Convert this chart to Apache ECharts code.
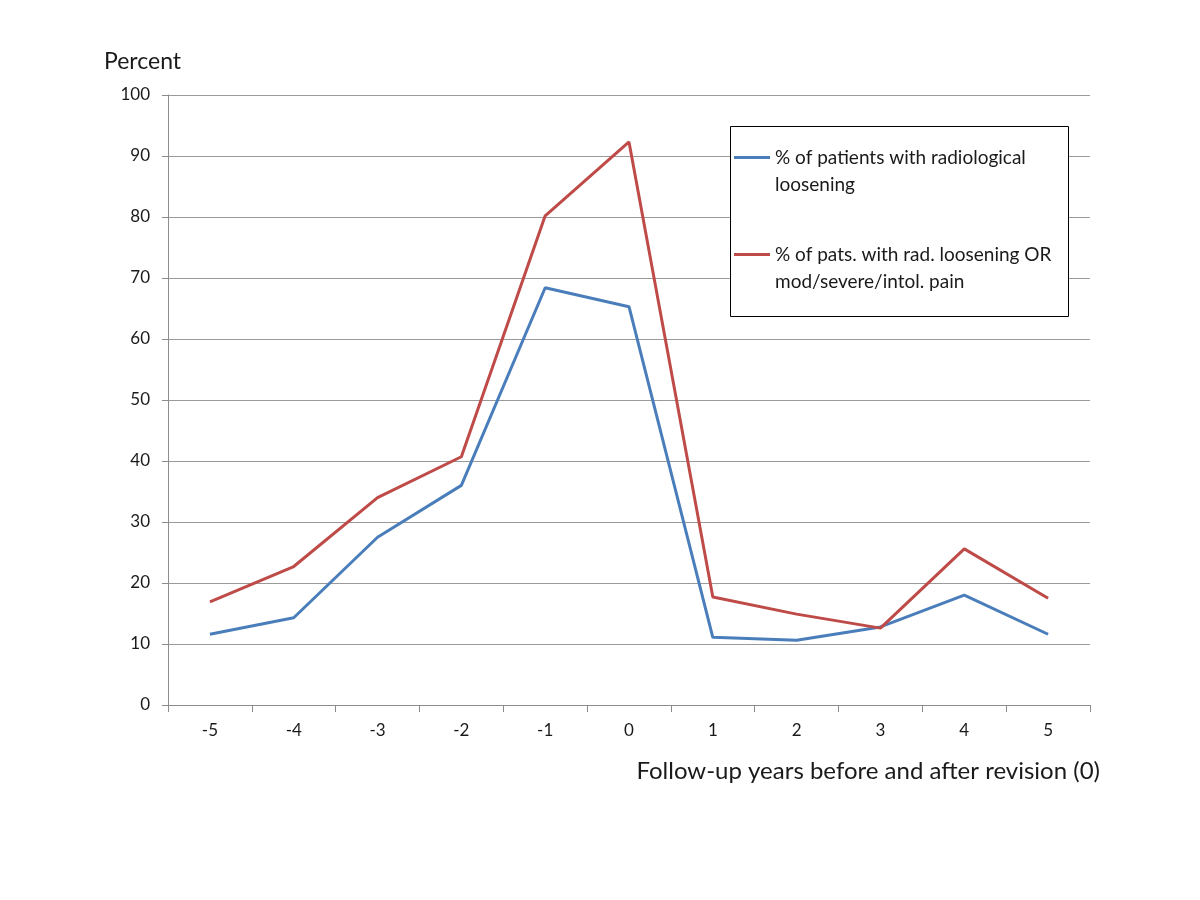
<!DOCTYPE html>
<html>
<head>
<meta charset="utf-8">
<script src="https://cdn.jsdelivr.net/npm/echarts@6/dist/echarts.min.js"></script>
<style>
  html, body { margin: 0; padding: 0; background: #fff; }
  #chart { width: 1200px; height: 900px; }
</style>
</head>
<body>
<div id="chart"></div>
<script>
// follow-up years relative to revision (0)
const years = ['-5', '-4', '-3', '-2', '-1', '0', '1', '2', '3', '4', '5'];
const radLoosening = [11.6, 14.3, 27.5, 36.0, 68.4, 65.3, 11.1, 10.6, 12.8, 18.0, 11.6];
const radOrPain = [16.9, 22.7, 34.0, 40.7, 80.2, 92.3, 17.7, 14.9, 12.6, 25.6, 17.5];
const seriesNames = [
  '% of patients with radiological\nloosening',
  '% of pats. with rad. loosening OR\nmod/severe/intol. pain'
];

const font = 'Lato, "Open Sans", sans-serif';
const myChart = echarts.init(document.getElementById('chart'));

// legend icon: bar at top of a taller box so it lines up with the first text line
const topLineIcon = 'path://M0,0L36,0L36,3L0,3ZM0,30L36,30Z';

const option = {
  backgroundColor: '#fff',
  animation: false,
  textStyle: { fontFamily: font },
  grid: { left: 168, right: 110, top: 95, bottom: 195 },
  graphic: [
    {
      type: 'rect',
      left: 730, top: 126,
      shape: { width: 338, height: 190 },
      style: { fill: '#fff', stroke: '#000', lineWidth: 1 },
      z: 5
    }
  ],
  legend: {
    left: 734, top: 144,
    padding: 0,
    orient: 'vertical',
    itemGap: 43,
    itemWidth: 36,
    itemHeight: 30,
    icon: topLineIcon,
    z: 10,
    textStyle: {
      fontFamily: font, fontSize: 19, color: '#1a1a1a', lineHeight: 27
    },
    data: seriesNames
  },
  xAxis: {
    type: 'category',
    data: years,
    boundaryGap: true,
    name: 'Follow-up years before and after revision (0)',
    nameLocation: 'end',
    nameGap: 10,
    nameTextStyle: {
      fontFamily: font, fontSize: 24, color: '#1a1a1a',
      align: 'right', verticalAlign: 'top', padding: [54, 0, 0, 0]
    },
    axisLine: { lineStyle: { color: '#8c8c8c', width: 1 } },
    axisTick: { show: true, length: 7, inside: false, lineStyle: { color: '#8c8c8c' } },
    axisLabel: { fontFamily: font, fontSize: 17, color: '#1a1a1a', margin: 17 },
    splitLine: { show: false }
  },
  yAxis: {
    type: 'value',
    min: 0, max: 100, interval: 10,
    name: 'Percent',
    nameLocation: 'end',
    nameGap: 22,
    nameTextStyle: {
      fontFamily: font, fontSize: 23, color: '#1a1a1a',
      align: 'left', padding: [0, 0, 0, -64]
    },
    axisLine: { show: true, lineStyle: { color: '#8c8c8c', width: 1 } },
    axisTick: { show: true, length: 6, lineStyle: { color: '#8c8c8c' } },
    axisLabel: { fontFamily: font, fontSize: 17, color: '#1a1a1a', margin: 18 },
    splitLine: { lineStyle: { color: '#9a9a9a', width: 1 } }
  },
  series: [
    {
      name: seriesNames[0],
      type: 'line',
      data: radLoosening,
      symbol: 'none',
      lineStyle: { color: '#4a7ebb', width: 3 },
      itemStyle: { color: '#4a7ebb' }
    },
    {
      name: seriesNames[1],
      type: 'line',
      data: radOrPain,
      symbol: 'none',
      lineStyle: { color: '#be4b48', width: 3 },
      itemStyle: { color: '#be4b48' }
    }
  ]
};
myChart.setOption(option);
</script>
</body>
</html>
